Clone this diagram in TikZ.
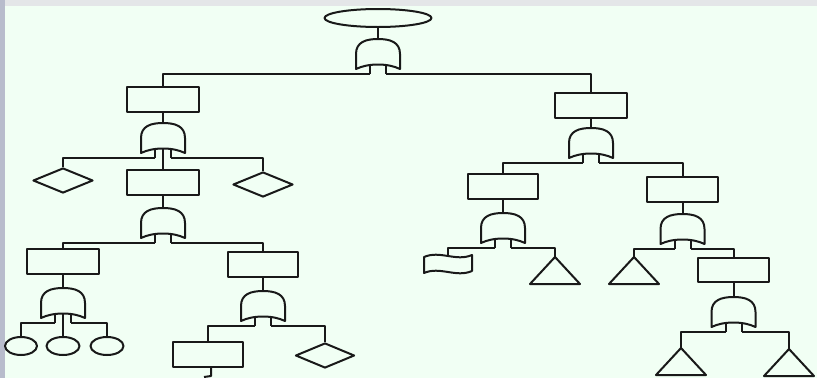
\documentclass[tikz,border=0pt]{standalone}
\usetikzlibrary{shapes.geometric}
\definecolor{mint}{RGB}{241,255,244}
\definecolor{ink}{RGB}{25,25,25}
\definecolor{edgegray}{RGB}{184,188,204}
\definecolor{topgray}{RGB}{228,230,232}
\tikzset{
  evbox/.style={draw, rectangle, minimum width=72pt, minimum height=25pt, inner sep=0pt},
  undev/.style={draw, diamond, minimum width=60pt, minimum height=25pt, inner sep=0pt},
  basic/.style={draw, ellipse, minimum width=33pt, minimum height=18pt, inner sep=0pt},
  topev/.style={draw, ellipse, minimum width=107pt, minimum height=18pt, inner sep=0pt},
  gate/.pic={
    \draw (-22,30) -- (-22,15) .. controls (-22,3) and (-12,0) .. (0,0)
          .. controls (12,0) and (22,3) .. (22,15) -- (22,30)
          .. controls (10,24) and (-10,24) .. (-22,30) -- cycle;
    \draw (-8,26) -- (-8,35);
    \draw (8,26) -- (8,35);
    \coordinate (-in) at (0,0);
    \coordinate (-l) at (-8,35);
    \coordinate (-r) at (8,35);
    \coordinate (-c) at (0,25.5);
  },
  trans/.pic={
    \draw (0,0) -- (25,27) -- (-25,27) -- cycle;
    \coordinate (-apex) at (0,0);
  },
  flagev/.pic={
    \draw (-24,2) .. controls (-8,-5) and (8,7) .. (24,0) -- (24,16)
          .. controls (8,23) and (-8,11) .. (-24,18) -- cycle;
    \coordinate (-top) at (0,1);
  }
}
\begin{document}
\begin{tikzpicture}[x=1pt,y=-1pt,line width=2pt,color=ink,line join=round]
\useasboundingbox (0,0) rectangle (817,378);
\fill[edgegray] (0,0) rectangle (817,378);
\fill[topgray] (5,0) rectangle (817,6);
\fill[mint] (5,6) rectangle (817,378);

% top
\node[topev] (top) at (378,18) {};
\pic (g0) at (378,39) {gate};
\draw (top.south) -- (g0-in);

% level 1
\node[evbox] (b1) at (163,99.5) {};
\node[evbox] (b2) at (591,105.5) {};
\draw (g0-l) -| (b1.north);
\draw (g0-r) -| (b2.north);

% left branch
\pic (gL1) at (163,123) {gate};
\draw (b1.south) -- (gL1-in);
\node[undev] (dL1) at (63,180.5) {};
\node[evbox] (bL2) at (163,182.5) {};
\node[undev] (dR1) at (263,184.5) {};
\draw (gL1-l) -| (dL1.north);
\draw (gL1-r) -| (dR1.north);
\draw (gL1-c) -- (bL2.north);

\pic (gL2) at (163,208) {gate};
\draw (bL2.south) -- (gL2-in);
\node[evbox] (bL3a) at (63,261.5) {};
\node[evbox, minimum width=70pt] (bL3b) at (263,264.5) {};
\draw (gL2-l) -| (bL3a.north);
\draw (gL2-r) -| (bL3b.north);

\pic (gL3a) at (63,288) {gate};
\draw (bL3a.south) -- (gL3a-in);
\node[basic, minimum width=32pt] (c1) at (21,346) {};
\node[basic] (c2) at (63,346) {};
\node[basic] (c3) at (107,346) {};
\draw (gL3a-l) -| (c1.north);
\draw (gL3a-c) -- (c2.north);
\draw (gL3a-r) -| (c3.north);

\pic (gL3b) at (263,291) {gate};
\draw (bL3b.south) -- (gL3b-in);
\node[evbox, minimum width=70pt] (bL4) at (208,354.5) {};
\node[undev, minimum width=59pt] (dL4) at (325,355.5) {};
\draw (gL3b-l) -| (bL4.north);
\draw (gL3b-r) -| (dL4.north);
\coordinate (cut) at (211,376);
\coordinate (hook) at (204,377);
\draw (bL4.south -| cut) -- (cut) -- (hook);

% right branch
\pic (gR1) at (591,128) {gate};
\draw (b2.south) -- (gR1-in);
\node[evbox, minimum width=70pt] (bR2a) at (503,186.5) {};
\node[evbox, minimum width=71pt] (bR2b) at (682.5,189.5) {};
\draw (gR1-l) -| (bR2a.north);
\draw (gR1-r) -| (bR2b.north);

\pic (gR2a) at (503,213) {gate};
\draw (bR2a.south) -- (gR2a-in);
\pic (fl) at (448,255) {flagev};
\pic (tR2a) at (555,257) {trans};
\draw (gR2a-l) -| (fl-top);
\draw (gR2a-r) -| (tR2a-apex);

\pic (gR2b) at (682.5,214) {gate};
\draw (bR2b.south) -- (gR2b-in);
\pic (tR2b) at (634,257) {trans};
\node[evbox, minimum width=71pt, minimum height=24pt] (bR3) at (733.5,270) {};
\draw (gR2b-l) -| (tR2b-apex);
\draw (gR2b-r) -| (bR3.north);

\pic (gR3) at (733.5,297) {gate};
\draw (bR3.south) -- (gR3-in);
\pic (tR3a) at (681,348) {trans};
\pic (tR3b) at (789,349) {trans};
\draw (gR3-l) -| (tR3a-apex);
\draw (gR3-r) -| (tR3b-apex);
\end{tikzpicture}
\end{document}
